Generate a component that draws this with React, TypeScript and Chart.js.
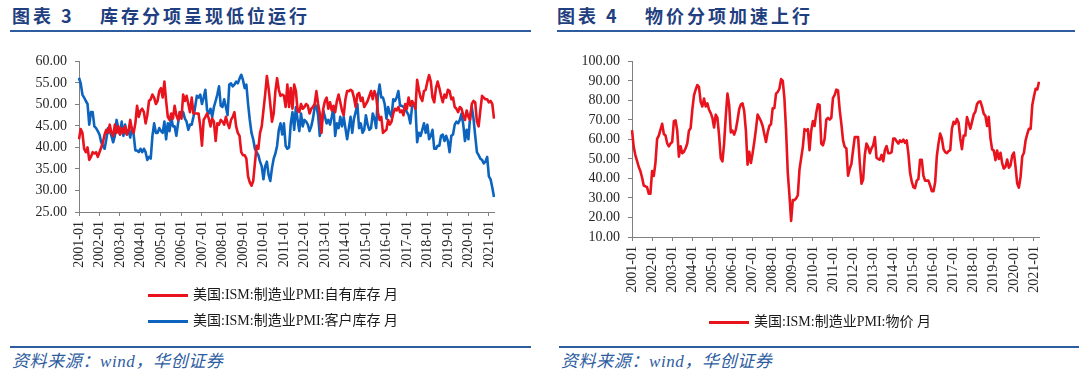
import React, { useEffect, useRef } from 'react';
import { Chart, registerables } from 'chart.js';

Chart.register(...registerables);

// ---------- categories ----------
const YEARS = ['2001', '2002', '2003', '2004', '2005', '2006', '2007', '2008', '2009', '2010', '2011',
  '2012', '2013', '2014', '2015', '2016', '2017', '2018', '2019', '2020', '2021'];
const MONTHS = ['01', '02', '03', '04', '05', '06', '07', '08', '09', '10', '11', '12'];
const LAST_MONTH_COUNT = 244; // 2001-01 .. 2021-04
const CATEGORIES: string[] = YEARS.flatMap((y) => MONTHS.map((m) => `${y}-${m}`)).slice(0, LAST_MONTH_COUNT);

// ---------- series (monthly, 2001-01 .. 2021-04) ----------
const OWN_INVENTORIES = [
  41.9, 44.3, 43.4, 39.7, 38.9, 40.0, 37.1, 37.8, 38.9, 38.6, 38.9, 37.8,
  38.9, 40.0, 41.2, 43.0, 44.1, 43.4, 45.3, 43.4, 42.7, 45.3, 43.4, 44.9,
  43.0, 44.5, 43.4, 44.9, 43.0, 43.8, 46.4, 44.1, 43.4, 45.6, 49.7, 47.1,
  48.5, 49.0, 48.2, 45.6, 47.5, 50.8, 51.2, 52.3, 51.6, 50.1, 50.8, 53.1,
  53.8, 51.6, 55.3, 50.8, 47.1, 46.4, 47.9, 46.7, 49.7, 47.5, 46.4, 48.2,
  46.7, 52.3, 50.8, 52.0, 50.1, 48.2, 51.6, 47.9, 47.9, 47.9, 47.9, 44.9,
  40.4, 46.4, 47.1, 47.9, 46.7, 44.9, 46.7, 46.0, 41.5, 45.6, 45.3, 46.4,
  46.0, 45.3, 47.1, 45.6, 44.5, 46.4, 47.1, 48.2, 44.9, 43.4, 42.7, 38.9,
  38.2, 38.2, 37.4, 33.3, 31.9, 31.1, 32.2, 36.3, 40.4, 39.7, 43.4, 44.9,
  48.6, 52.3, 56.6, 53.8, 50.1, 46.0, 47.9, 53.1, 56.1, 53.4, 52.0, 52.3,
  52.0, 49.4, 54.6, 49.4, 53.8, 49.0, 54.6, 53.1, 48.6, 48.2, 50.1, 49.0,
  49.4, 50.1, 49.7, 47.9, 49.0, 49.4, 50.1, 53.1, 50.1, 47.9, 43.4, 49.0,
  50.8, 51.6, 49.0, 50.5, 48.6, 49.7, 48.2, 50.8, 52.3, 50.5, 48.6, 47.5,
  51.2, 53.1, 53.1, 53.4, 53.1, 51.6, 49.4, 52.3, 52.7, 50.8, 51.6, 49.4,
  50.1, 50.8, 52.0, 53.1, 51.2, 53.1, 52.0, 48.2, 46.4, 47.1, 43.4, 43.8,
  44.1, 46.4, 45.3, 46.0, 47.9, 49.0, 48.6, 49.4, 48.2, 48.6, 47.5, 50.1,
  49.0, 51.6, 49.7, 50.8, 50.1, 49.0, 55.7, 53.4, 51.6, 50.8, 53.1, 53.4,
  55.3, 56.8, 55.3, 51.6, 50.5, 53.8, 55.3, 53.8, 52.0, 50.5, 52.3, 51.6,
  53.4, 53.1, 51.2, 51.6, 49.4, 49.0, 48.2, 49.4, 49.0, 47.5, 46.4, 48.6,
  47.1, 46.4, 50.1, 50.8, 50.5, 46.0, 44.9, 48.6, 52.0, 51.6, 51.2, 51.2,
  50.5, 50.8, 50.1, 46.7,
];

const CUSTOMER_INVENTORIES = [
  56.2, 54.9, 52.3, 51.6, 50.8, 50.1, 45.3, 48.2, 48.2, 44.9, 44.5, 43.8,
  43.0, 41.2, 40.4, 39.7, 41.9, 44.5, 43.8, 42.7, 41.2, 42.7, 46.4, 44.5,
  43.0, 46.0, 42.7, 45.3, 43.0, 44.1, 42.3, 44.5, 43.0, 39.3, 39.3, 38.9,
  39.7, 38.9, 39.7, 38.9, 37.1, 37.8, 37.4, 42.7, 45.6, 43.4, 43.4, 44.5,
  43.8, 43.4, 46.0, 41.9, 45.6, 43.8, 47.1, 44.9, 44.9, 42.7, 45.6, 48.2,
  47.9, 48.2, 46.7, 46.0, 44.1, 45.3, 45.3, 47.1, 49.4, 52.0, 51.6, 52.3,
  50.1, 51.6, 53.4, 48.6, 47.9, 49.0, 47.1, 49.4, 50.8, 52.3, 54.2, 49.7,
  49.4, 51.2, 49.4, 47.5, 54.6, 54.9, 54.2, 54.6, 55.3, 54.9, 56.0, 56.9,
  55.7, 53.8, 54.6, 50.1, 46.4, 43.4, 41.9, 39.7, 38.9, 38.2, 36.7, 35.6,
  32.6, 35.6, 36.7, 33.7, 32.2, 35.2, 37.4, 38.6, 40.4, 44.1, 45.6, 43.0,
  45.6, 40.4, 39.7, 40.0, 45.6, 48.2, 44.1, 49.4, 46.4, 43.8, 47.9, 44.9,
  46.4, 46.0, 45.3, 43.8, 44.9, 46.7, 49.4, 49.7, 47.5, 42.7, 45.3, 48.6,
  47.1, 45.6, 46.4, 45.3, 47.1, 49.4, 42.7, 45.6, 44.5, 47.1, 44.9, 47.1,
  44.5, 41.9, 44.5, 47.1, 43.4, 46.7, 48.2, 50.1, 44.5, 45.6, 43.4, 44.1,
  47.5, 45.3, 44.1, 44.5, 47.9, 46.7, 44.5, 52.0, 54.6, 51.6, 51.6, 50.1,
  46.7, 49.4, 47.9, 47.1, 51.2, 50.8, 51.6, 53.1, 49.7, 49.7, 49.4, 49.0,
  48.2, 47.5, 45.6, 49.4, 50.1, 49.4, 41.2, 43.4, 42.7, 44.1, 45.6, 43.4,
  45.3, 41.9, 42.7, 44.1, 39.7, 39.7, 40.4, 40.4, 42.7, 43.0, 41.5, 42.7,
  41.5, 38.9, 42.7, 43.0, 45.3, 46.0, 45.6, 46.4, 47.9, 45.3, 41.5, 44.1,
  41.9, 47.1, 49.4, 46.7, 42.7, 38.9, 38.2, 37.4, 37.1, 36.3, 36.7, 37.8,
  33.3, 32.6, 30.7, 28.5,
];

const PRICES = [
  64.8, 56.2, 52.0, 49.0, 46.0, 43.8, 40.5, 36.4, 36.0, 35.5, 32.2, 32.2,
  43.8, 41.3, 48.0, 60.3, 62.0, 65.0, 68.0, 62.8, 62.0, 58.0, 56.5, 57.9,
  58.7, 69.4, 69.8, 64.5, 51.2, 56.5, 52.9, 53.7, 55.5, 57.9, 64.5, 65.8,
  75.2, 82.6, 85.5, 87.9, 86.8, 79.3, 76.9, 81.0, 76.9, 78.5, 75.2, 73.5,
  71.1, 66.1, 72.7, 71.1, 62.0, 50.4, 48.8, 58.0, 72.0, 83.5, 77.7, 63.6,
  64.5, 62.5, 65.0, 70.0, 75.5, 78.0, 78.5, 74.4, 64.5, 47.1, 53.7, 47.9,
  52.9, 58.7, 65.3, 72.7, 71.1, 69.4, 66.9, 62.8, 58.7, 63.6, 66.9, 67.8,
  76.0, 76.0, 83.5, 84.3, 86.0, 90.9, 90.1, 81.0, 64.5, 43.0, 31.4, 18.2,
  28.9, 28.9, 29.8, 31.4, 44.6, 50.4, 56.2, 65.3, 64.5, 65.3, 54.5, 64.5,
  69.4, 66.9, 73.5, 78.0, 77.7, 57.9, 57.0, 60.3, 70.2, 71.1, 70.2, 71.1,
  81.3, 82.7, 85.5, 85.1, 75.2, 68.0, 59.5, 56.2, 55.4, 41.4, 45.0, 47.5,
  54.6, 61.2, 61.2, 61.2, 48.0, 37.3, 39.5, 52.0, 57.9, 56.2, 52.9, 55.4,
  57.0, 61.2, 50.5, 50.0, 49.6, 52.1, 48.8, 54.6, 56.6, 52.9, 52.9, 53.5,
  60.4, 60.4, 59.0, 57.9, 59.5, 58.7, 59.9, 58.2, 59.5, 52.9, 43.0, 38.5,
  35.6, 35.1, 38.9, 39.7, 49.6, 49.6, 41.4, 38.9, 38.9, 38.9, 36.4, 33.5,
  33.5, 38.0, 51.5, 58.0, 63.0, 60.5, 55.0, 53.5, 53.0, 54.0, 54.5, 65.5,
  69.0, 68.0, 70.5, 68.5, 60.5, 55.0, 62.0, 62.0, 71.5, 68.5, 65.5, 69.0,
  72.7, 74.2, 78.1, 79.3, 79.5, 76.8, 73.2, 72.1, 66.9, 71.6, 60.7, 54.9,
  54.3, 49.4, 54.3, 50.0, 53.2, 47.9, 45.1, 46.0, 49.7, 45.5, 46.7, 51.7,
  53.3, 45.9, 37.4, 35.3, 40.8, 51.3, 53.2, 59.5, 62.8, 65.5, 65.4, 77.6,
  82.1, 86.0, 85.6, 89.6,
];

// ---------- labels / ticks ----------
const LEFT_TITLE_NO = '图表 3';
const LEFT_TITLE = '库存分项呈现低位运行';
const RIGHT_TITLE_NO = '图表 4';
const RIGHT_TITLE = '物价分项加速上行';
const SOURCE_TEXT = '资料来源：wind，华创证券';
const OWN_LABEL = '美国:ISM:制造业PMI:自有库存 月';
const CUSTOMER_LABEL = '美国:ISM:制造业PMI:客户库存 月';
const PRICES_LABEL = '美国:ISM:制造业PMI:物价 月';
const LEFT_Y_TICKS = [25, 30, 35, 40, 45, 50, 55, 60];
const RIGHT_Y_TICKS = [10, 20, 30, 40, 50, 60, 70, 80, 90, 100];

const RED = '#e8131d';
const BLUE = '#0c64be';
const AXIS = '#808080';
const NAVY = '#1f3f80';
const RULE = '#2d5c9f';
const TICK_FONT = "'Liberation Serif', 'Times New Roman', 'Noto Sans CJK SC', serif";

type SeriesDef = { label: string; data: number[]; color: string };

function LineChart(props: {
  left: number; top: number; width: number; height: number;
  series: SeriesDef[]; yTicks: number[]; yWidth: number;
  padding: { left: number; right: number; top: number; bottom: number };
}) {
  const ref = useRef<HTMLCanvasElement>(null);
  useEffect(() => {
    const yMin = props.yTicks[0];
    const yMax = props.yTicks[props.yTicks.length - 1];
    const step = props.yTicks[1] - props.yTicks[0];
    const chart = new Chart(ref.current as HTMLCanvasElement, {
      type: 'line',
      data: {
        labels: CATEGORIES,
        datasets: props.series.map((s) => ({
          label: s.label,
          data: s.data,
          borderColor: s.color,
          backgroundColor: s.color,
          borderWidth: 2.6,
          pointRadius: 0,
          tension: 0,
          fill: false,
          borderJoinStyle: 'round' as const,
        })),
      },
      options: {
        animation: false,
        responsive: false,
        maintainAspectRatio: false,
        layout: { padding: props.padding },
        plugins: { legend: { display: false }, tooltip: { enabled: false }, title: { display: false } },
        scales: {
          x: {
            type: 'category',
            offset: false,
            grid: { drawOnChartArea: false, drawTicks: true, tickLength: 4, color: AXIS },
            border: { display: true, color: AXIS, width: 1 },
            ticks: {
              autoSkip: false,
              maxRotation: 90,
              minRotation: 90,
              padding: 5,
              color: '#262626',
              font: { family: TICK_FONT, size: 14 },
              callback: (_v: any, i: number) => (CATEGORIES[i].endsWith('-01') ? CATEGORIES[i] : null),
            },
            afterFit: (s: any) => { s.height = 60; },
          },
          y: {
            min: yMin,
            max: yMax,
            grid: { drawOnChartArea: false, drawTicks: true, tickLength: 4, color: AXIS },
            border: { display: true, color: AXIS, width: 1 },
            ticks: {
              stepSize: step,
              autoSkip: false,
              padding: 8,
              color: '#262626',
              font: { family: TICK_FONT, size: 14 },
              callback: (v: any) => Number(v).toFixed(2),
            },
            afterFit: (s: any) => { s.width = props.yWidth; },
          },
        },
      },
    });
    return () => chart.destroy();
  }, []);
  return (
    <canvas
      ref={ref}
      width={props.width}
      height={props.height}
      style={{ position: 'absolute', left: props.left, top: props.top, width: props.width, height: props.height }}
    />
  );
}

function Title(props: { left: number; no: string; text: string }) {
  const common: React.CSSProperties = {
    position: 'absolute', top: 4, fontFamily: "'Noto Sans CJK SC', sans-serif", fontWeight: 700,
    fontSize: 18, color: NAVY, letterSpacing: 3, whiteSpace: 'nowrap', lineHeight: '22px',
  };
  return (
    <>
      <div style={{ ...common, left: props.left }}>{props.no}</div>
      <div style={{ ...common, left: props.left + 88 }}>{props.text}</div>
    </>
  );
}

function Legend(props: { left: number; top: number; items: SeriesDef[]; gap: number }) {
  return (
    <>
      {props.items.map((it, i) => (
        <div key={it.label} style={{ position: 'absolute', left: props.left, top: props.top + i * props.gap - 9, height: 18, display: 'flex', alignItems: 'center', whiteSpace: 'nowrap' }}>
          <div style={{ width: 40, height: 3, background: it.color, marginRight: 5 }} />
          <span style={{ fontFamily: TICK_FONT, fontSize: 14, color: '#1a1a1a', lineHeight: '18px' }}>{it.label}</span>
        </div>
      ))}
    </>
  );
}

function Source(props: { left: number }) {
  return (
    <div style={{ position: 'absolute', left: props.left, top: 352, fontFamily: "'Liberation Serif', 'Noto Sans CJK SC', serif", fontStyle: 'italic', fontSize: 17, color: RULE, whiteSpace: 'nowrap', lineHeight: '20px', letterSpacing: 0.6 }}>
      {SOURCE_TEXT}
    </div>
  );
}

export default function App() {
  const leftSeries: SeriesDef[] = [
    { label: OWN_LABEL, data: OWN_INVENTORIES, color: RED },
    { label: CUSTOMER_LABEL, data: CUSTOMER_INVENTORIES, color: BLUE },
  ];
  const rightSeries: SeriesDef[] = [{ label: PRICES_LABEL, data: PRICES, color: RED }];
  return (
    <div style={{ position: 'absolute', left: 0, top: 0, width: 1080, height: 382, background: '#fff', overflow: 'hidden' }}>
      <Title left={12} no={LEFT_TITLE_NO} text={LEFT_TITLE} />
      <Title left={557} no={RIGHT_TITLE_NO} text={RIGHT_TITLE} />
      <div style={{ position: 'absolute', left: 10, top: 30, width: 521, height: 2, background: RULE }} />
      <div style={{ position: 'absolute', left: 557, top: 30, width: 518, height: 2, background: RULE }} />

      <LineChart left={0} top={45} width={540} height={295} series={leftSeries} yTicks={LEFT_Y_TICKS}
        yWidth={79} padding={{ left: 0, right: 46, top: 11, bottom: 68 }} />
      <LineChart left={540} top={45} width={540} height={295} series={rightSeries} yTicks={RIGHT_Y_TICKS}
        yWidth={92} padding={{ left: 0, right: 41, top: 10, bottom: 43 }} />

      <Legend left={148} top={295} items={leftSeries} gap={26} />
      <Legend left={709} top={322} items={rightSeries} gap={26} />

      <div style={{ position: 'absolute', left: 10, top: 346, width: 521, height: 2, background: RULE }} />
      <div style={{ position: 'absolute', left: 559, top: 346, width: 520, height: 2, background: RULE }} />
      <Source left={12} />
      <Source left={561} />
    </div>
  );
}
